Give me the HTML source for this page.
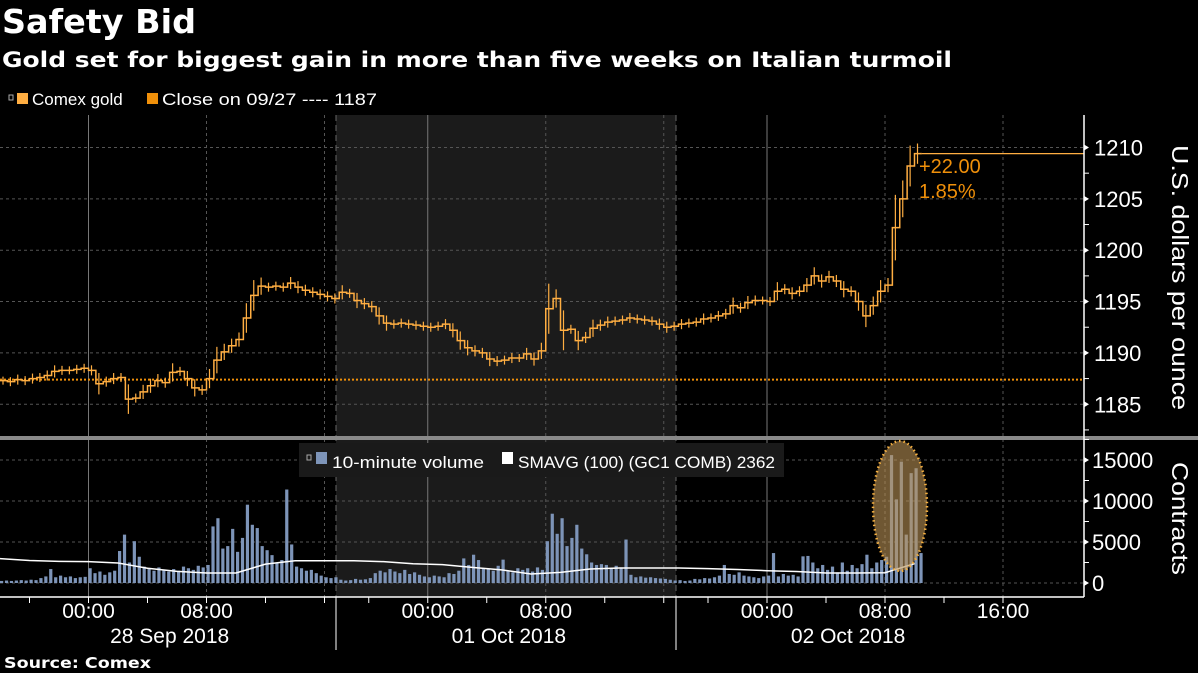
<!DOCTYPE html>
<html><head><meta charset="utf-8">
<style>
body{margin:0;background:#000;width:1198px;height:673px;overflow:hidden;font-family:"Liberation Sans Narrow","Liberation Sans",sans-serif;}
svg{position:absolute;left:0;top:0}
</style></head>
<body>
<svg id="chart" width="1198" height="673">
<text x="2" y="33" fill="#fff" font-family="DejaVu Sans, sans-serif" font-weight="bold" font-size="33" textLength="194" lengthAdjust="spacingAndGlyphs">Safety Bid</text>
<text x="2" y="67" fill="#fff" font-family="DejaVu Sans, sans-serif" font-weight="bold" font-size="21" textLength="950" lengthAdjust="spacingAndGlyphs">Gold set for biggest gain in more than five weeks on Italian turmoil</text>
<g>
<rect x="9" y="95" width="4" height="5" fill="none" stroke="#aaa" stroke-width="1"/>
<rect x="17" y="93" width="11" height="11" fill="#ffae42"/>
<text x="32" y="105" fill="#fff" font-size="17">Comex gold</text>
<rect x="147" y="93" width="11" height="11" fill="#f0900a"/>
<text x="162" y="105" fill="#fff" font-size="17" textLength="215" lengthAdjust="spacingAndGlyphs">Close on 09/27 ---- 1187</text>
</g>
<g id="g"></g>
<text x="0" y="0" transform="translate(1172,145) rotate(90)" fill="#fff" font-size="23" textLength="265" lengthAdjust="spacingAndGlyphs">U.S. dollars per ounce</text>
<text x="0" y="0" transform="translate(1172,462) rotate(90)" fill="#fff" font-size="23" textLength="113" lengthAdjust="spacingAndGlyphs">Contracts</text>
<text x="4" y="668" fill="#fff" font-family="DejaVu Sans, sans-serif" font-weight="bold" font-size="15" textLength="147" lengthAdjust="spacingAndGlyphs">Source: Comex</text>
</svg>
<script>
const priceTicks=[1185,1190,1195,1200,1205,1210];
const volTicks=[0,5000,10000,15000];
const prevClose=1187.4;
const prices=[1187.3,1187.2,1187.4,1187.3,1187.5,1187.6,1187.8,1188.2,1188.3,1188.3,1188.4,1188.5,1188.3,1187.0,1187.2,1187.5,1187.6,1185.5,1185.6,1186.2,1186.8,1187.3,1187.1,1188.1,1188.2,1187.5,1186.6,1186.4,1187.5,1189.3,1190.1,1190.7,1191.3,1193.4,1195.6,1196.5,1196.4,1196.5,1196.4,1196.8,1196.4,1196.1,1195.9,1195.7,1195.5,1195.3,1195.9,1195.8,1195.1,1194.8,1194.5,1193.6,1192.9,1192.8,1192.9,1192.8,1192.7,1192.6,1192.5,1192.6,1192.8,1192.2,1191.2,1190.5,1190.2,1190.0,1189.4,1189.2,1189.3,1189.5,1189.5,1189.9,1189.4,1190.2,1194.3,1195.3,1192.2,1192.3,1191.2,1191.5,1192.4,1192.7,1193.0,1193.1,1193.2,1193.4,1193.3,1193.2,1193.1,1192.8,1192.5,1192.6,1192.8,1192.9,1193.0,1193.3,1193.4,1193.6,1193.8,1194.6,1194.4,1194.9,1195.1,1195.1,1195.0,1196.0,1196.2,1195.8,1196.0,1196.6,1197.5,1197.0,1197.4,1197.0,1196.2,1196.0,1195.0,1193.6,1194.6,1196.0,1196.6,1202.2,1205.0,1208.2,1209.4];
const volumes=[250,300,250,300,350,300,400,350,600,800,1700,700,900,700,800,600,700,750,1800,1200,1400,1000,1300,1500,3900,5900,2500,5100,3200,2000,1700,1500,1900,1600,1400,1700,1500,2000,1800,1600,2100,1900,2200,6900,7900,4200,4500,6600,3800,5500,9550,7100,6700,4500,4000,3400,2500,2800,11400,4700,2000,1800,1500,1600,1200,900,700,600,700,400,300,350,500,400,450,600,1200,1500,1300,1700,1400,1200,1600,1100,1300,1000,800,700,900,800,700,1200,1100,1500,3000,2200,3450,2800,1800,1700,1500,2100,2850,1500,1300,1800,1600,1800,1400,1900,1600,5100,8450,6000,7900,4500,5500,7100,4200,3500,2500,2200,2300,2200,1800,2100,1900,5300,1000,700,800,650,700,600,550,500,400,300,350,250,300,500,450,600,550,700,900,2200,1100,1000,1300,900,800,700,600,800,900,3650,800,1100,900,1000,800,3250,3300,2500,1800,2200,1600,2000,1300,2500,1500,2200,1800,2300,3450,1800,2500,2800,3200,15600,10200,14800,5900,13400,14000,3650];
const smaVals=[2970,2750,2640,2600,2440,1800,1420,1220,1220,2300,2720,2720,2720,2600,2350,2240,1900,1600,1100,1300,1700,1830,1830,1830,1750,1650,1500,1400,1220,1220,1250,2360];
const timeLabels=["00:00","08:00","00:00","08:00","00:00","08:00","16:00"];
const timeDays=[0,0,1,1,2,2,2];
const timeHours=[0,8,0,8,0,8,16];
const dayLabels=["28 Sep 2018","01 Oct 2018","02 Oct 2018"];

const NS="http://www.w3.org/2000/svg";
const g=document.getElementById('g');
function mk(t,a,p){const e=document.createElementNS(NS,t);for(const k in a)e.setAttribute(k,a[k]);(p||g).appendChild(e);return e;}
const PX_H=14.75, DAY=339.25, X0=88.5;
function xTime(d,h){return X0+d*DAY+h*PX_H;}
function xBar(i,mins){return i*mins/60*PX_H;}
function yP(v){return 147.5+(1210-v)*10.27;}
function yV(v){return 583-v/15000*123;}
const AX=1084;

let e=mk('rect',{x:336,y:115,width:340,height:482,fill:'#1b1b1b'});


priceTicks.forEach(v=>{mk('line',{x1:0,x2:AX,y1:yP(v),y2:yP(v),stroke:'#555','stroke-dasharray':'3,3'});});
volTicks.forEach(v=>{mk('line',{x1:0,x2:AX,y1:yV(v),y2:yV(v),stroke:'#555','stroke-dasharray':'3,3'});});
for(let d=0;d<3;d++){
 [0,8,16].forEach(h=>{const x=xTime(d,h);if(x>AX)return;
  if(h===0){mk('line',{x1:x,x2:x,y1:115,y2:597,stroke:'#777'});}
  else mk('line',{x1:x,x2:x,y1:115,y2:597,stroke:'#555','stroke-dasharray':'3,3'});});
}
[336,676].forEach(x=>mk('line',{x1:x,x2:x,y1:115,y2:597,stroke:'#666','stroke-dasharray':'6,4'}));
e=mk('rect',{x:0,y:436,width:1198,height:4,fill:'#8a8a8a'});


e=mk('line',{x1:0,x2:AX,y1:yP(prevClose),y2:yP(prevClose),stroke:'#f0900a','stroke-width':2,'stroke-dasharray':'2,2'});


let d='';
prices.forEach((v,i)=>{const x=xBar(i,30),y=yP(v);d+=(i?'L'+x+' '+y:'M'+x+' '+y)+' H'+(x+7.375)+' ';});
e=mk('path',{d:d,fill:'none',stroke:'#ffae42','stroke-width':1.5});


prices.forEach((v,i)=>{const x=xBar(i,30)+3,y=yP(v);const r=i>0?Math.abs(v-prices[i-1])*10.27/2+4:4;
 const t=mk('line',{x1:x,x2:x,y1:y-r,y2:y+r,stroke:'#ffae42','stroke-width':1.2});
 
 });
const last=prices[prices.length-1];
e=mk('line',{x1:xBar(prices.length,30),x2:AX,y1:yP(last),y2:yP(last),stroke:'#ffae42','stroke-width':1.2});


e=mk('text',{x:919,y:173,fill:'#f0900a','font-size':20});e.textContent='+22.00';


e=mk('text',{x:919,y:198,fill:'#f0900a','font-size':20});e.textContent='1.85%';


volumes.forEach((v,i)=>{const x=xBar(i,20);const b=mk('rect',{x:x,y:yV(v),width:3.2,height:583-yV(v),fill:'#7d94b8'});
 
 });
d='';smaVals.forEach((v,i)=>{const x=xBar(i*6,20);d+=(i?'L':'M')+x+' '+yV(v)+' ';});
e=mk('path',{d:d,fill:'none',stroke:'#fff','stroke-width':1.5});


e=mk('ellipse',{cx:900,cy:506,rx:27,ry:65,fill:'rgba(185,145,85,0.6)',stroke:'#f5b041','stroke-width':2.5,'stroke-dasharray':'1.5,3'});


e=mk('rect',{x:299,y:443,width:485,height:34,fill:'#1a1a1a'});


mk('rect',{x:307,y:455,width:4,height:5,fill:'none',stroke:'#aaa'});
e=mk('rect',{x:316,y:452,width:11,height:12,fill:'#7d94b8'});


e=mk('text',{x:332,y:468,fill:'#fff','font-size':17,textLength:152,lengthAdjust:'spacingAndGlyphs'});e.textContent='10-minute volume';


e=mk('rect',{x:502,y:452,width:11,height:12,fill:'#fff'});


e=mk('text',{x:518,y:468,fill:'#fff','font-size':17,textLength:257,lengthAdjust:'spacingAndGlyphs'});e.textContent='SMAVG (100) (GC1 COMB) 2362';


e=mk('line',{x1:AX,x2:AX,y1:115,y2:597,stroke:'#fff','stroke-width':1.5});


priceTicks.forEach(v=>{const y=yP(v);mk('path',{d:`M${AX} ${y-3}L${AX+5} ${y}L${AX} ${y+3}Z`,fill:'#fff'});
 mk('line',{x1:AX,x2:AX+5,y1:yP(v-2.5),y2:yP(v-2.5),stroke:'#fff'});
 const t=mk('text',{x:AX+10,y:y+8,fill:'#fff','font-size':22});t.textContent=v;
 
 });
volTicks.forEach(v=>{const y=yV(v);mk('path',{d:`M${AX} ${y-3}L${AX+5} ${y}L${AX} ${y+3}Z`,fill:'#fff'});
 mk('line',{x1:AX,x2:AX+5,y1:yV(v+2500),y2:yV(v+2500),stroke:'#fff'});
 const t=mk('text',{x:AX+8,y:y+8,fill:'#fff','font-size':22});t.textContent=v;
 
 });
e=mk('line',{x1:0,x2:AX,y1:597,y2:597,stroke:'#fff','stroke-width':1.5});


for(let dd=0;dd<3;dd++)for(let h=-4;h<=16;h+=4){const x=xTime(dd,h);if(x<AX)mk('line',{x1:x,x2:x,y1:597,y2:603,stroke:'#fff'});}
[336,676].forEach(x=>mk('line',{x1:x,x2:x,y1:597,y2:650,stroke:'#fff'}));
timeLabels.forEach((s,i)=>{const t=mk('text',{x:xTime(timeDays[i],timeHours[i]),y:618,fill:'#fff','font-size':21,'text-anchor':'middle'});t.textContent=s;
 
 });
dayLabels.forEach((s,i)=>{const t=mk('text',{x:xTime(i,5.5),y:643,fill:'#fff','font-size':21,'text-anchor':'middle'});t.textContent=s;
 
 });
</script>
</body></html>
